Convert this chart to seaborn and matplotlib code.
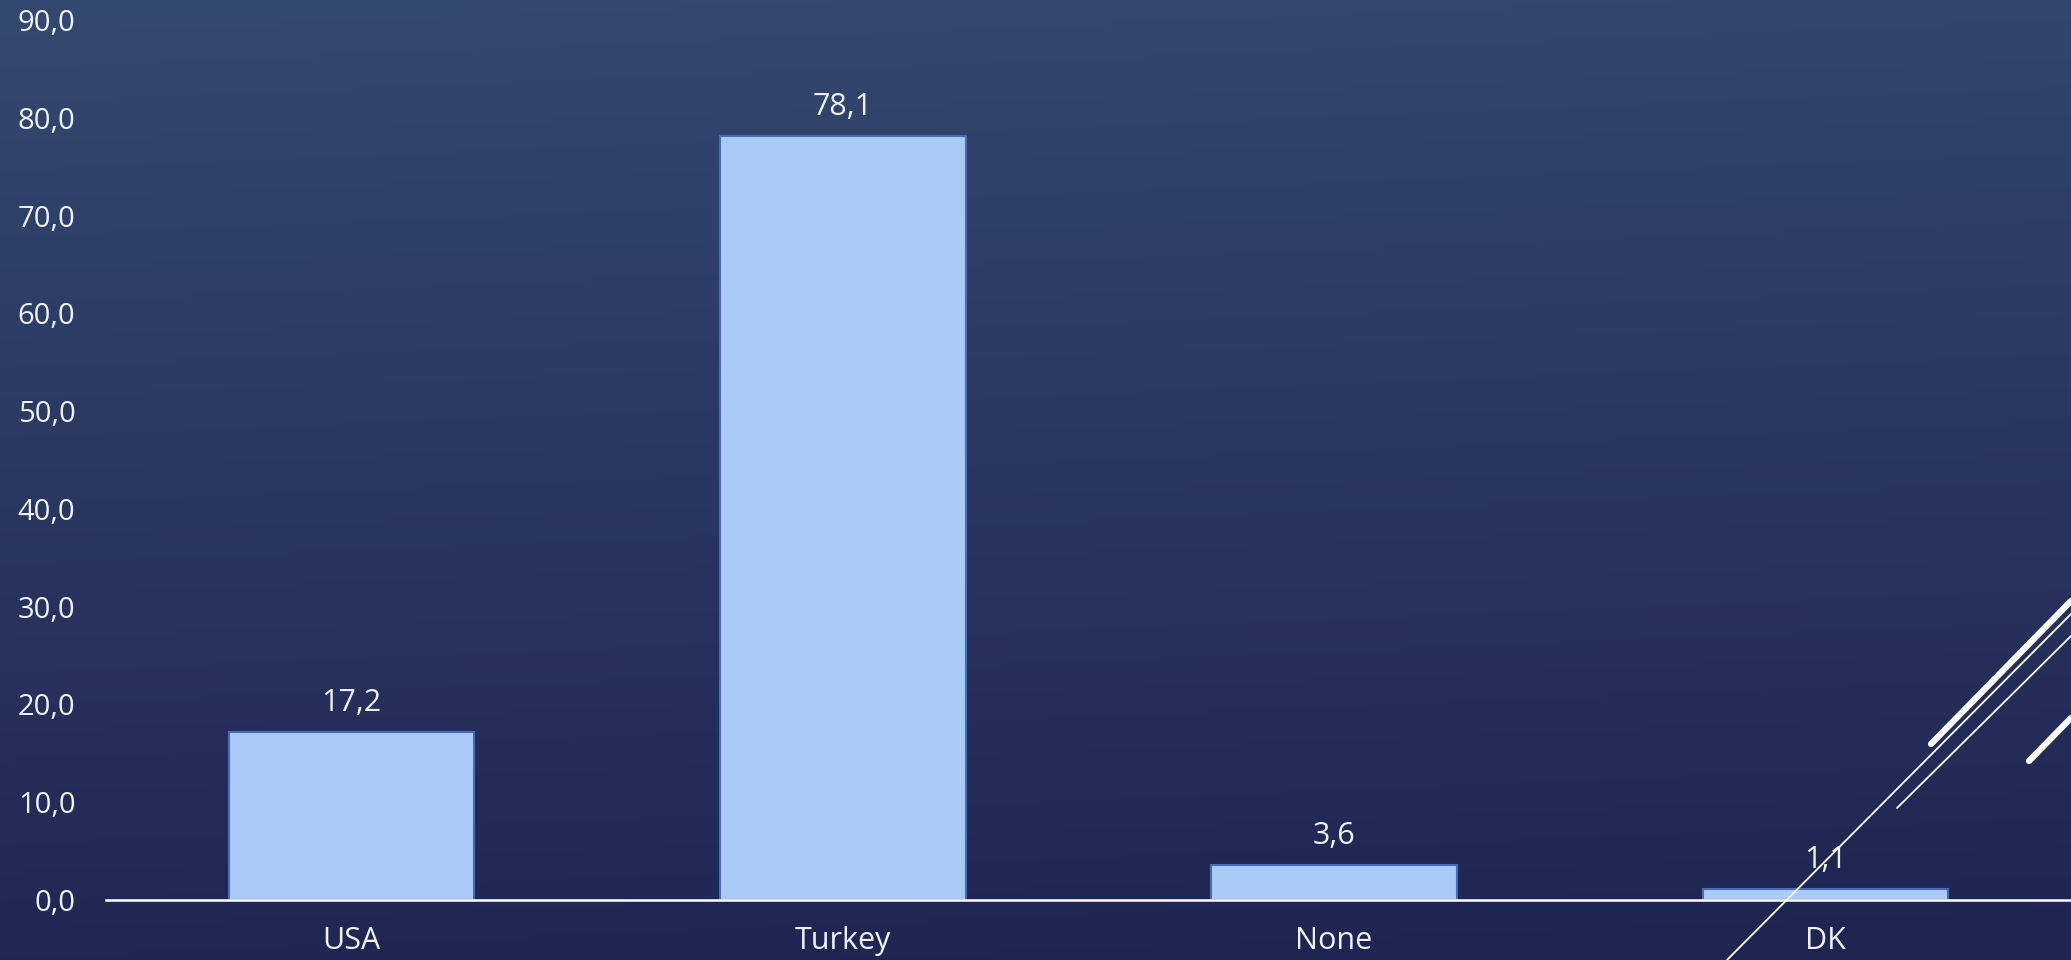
import matplotlib
matplotlib.use('Agg')
import matplotlib.pyplot as plt
from matplotlib.lines import Line2D
from matplotlib.ticker import FuncFormatter
import numpy as np
import pandas as pd
import seaborn as sns

countries = ["USA", "Turkey", "None", "DK"]
shares = [17.2, 78.1, 3.6, 1.1]
y_ticks = [0, 10, 20, 30, 40, 50, 60, 70, 80, 90]

TEXT = "#eef1f6"
BAR = "#abcbf7"
EDGE = "#4a6cb8"


def comma(v, _=None):
    return f"{v:.1f}".replace(".", ",")


def main():
    sns.set_theme(style="white")
    plt.rcParams['font.family'] = ['Open Sans', 'DejaVu Sans']

    fig = plt.figure(figsize=(20.71, 9.6), dpi=100)

    # gradient background, slightly tilted
    bg = fig.add_axes([0, 0, 1, 1], zorder=-10)
    yy, xx = np.mgrid[0:1:300j, 0:1:600j]
    t = np.clip(yy * 0.92 + (1 - xx) * 0.08, 0, 1)
    top = np.array([0x34, 0x49, 0x70]) / 255
    bottom = np.array([0x1f, 0x24, 0x51]) / 255
    img = bottom[None, None, :] * (1 - t[..., None]) + top[None, None, :] * t[..., None]
    bg.imshow(img, origin="lower", extent=[0, 1, 0, 1], aspect="auto")
    bg.set_axis_off()

    ax = fig.add_axes([106 / 2071, 60 / 960, 1 - 106 / 2071, 880 / 960])
    ax.patch.set_alpha(0)

    df = pd.DataFrame({"country": countries, "share": shares})
    sns.barplot(data=df, x="country", y="share", color=BAR, edgecolor=EDGE,
                linewidth=1.5, width=0.5, saturation=1, ax=ax)

    for i, v in enumerate(shares):
        ax.annotate(comma(v), (i, v), xytext=(0, 10), textcoords="offset points",
                    ha="center", va="bottom", color=TEXT, fontsize=22)

    ax.set_xlim(-0.5, 3.5)
    ax.set_ylim(0, 90)
    ax.set_yticks(y_ticks)
    ax.yaxis.set_major_formatter(FuncFormatter(comma))
    ax.set_xlabel("")
    ax.set_ylabel("")
    ax.tick_params(axis="y", length=0, pad=22, labelsize=21, labelcolor=TEXT)
    ax.tick_params(axis="x", length=0, pad=19, labelsize=22, labelcolor=TEXT)
    for s in ["left", "right", "top"]:
        ax.spines[s].set_visible(False)
    ax.spines["bottom"].set_color("white")
    ax.spines["bottom"].set_linewidth(1.8)
    ax.grid(False)

    # decorative slide lines, bottom right corner
    W, H = 2071, 960
    deco = [((1727, 960), (2071, 614), 1.3),
            ((1897, 808), (2071, 636), 1.3),
            ((1931, 744), (2071, 601), 4.5),
            ((2029, 761), (2071, 718), 4.5)]
    for (x0, y0), (x1, y1), lw in deco:
        fig.add_artist(Line2D([x0 / W, x1 / W], [1 - y0 / H, 1 - y1 / H],
                              color="white", lw=lw, solid_capstyle="round",
                              transform=fig.transFigure, zorder=20))

    fig.savefig("out.png", dpi=100)
    plt.close(fig)


if __name__ == '__main__':
    main()
